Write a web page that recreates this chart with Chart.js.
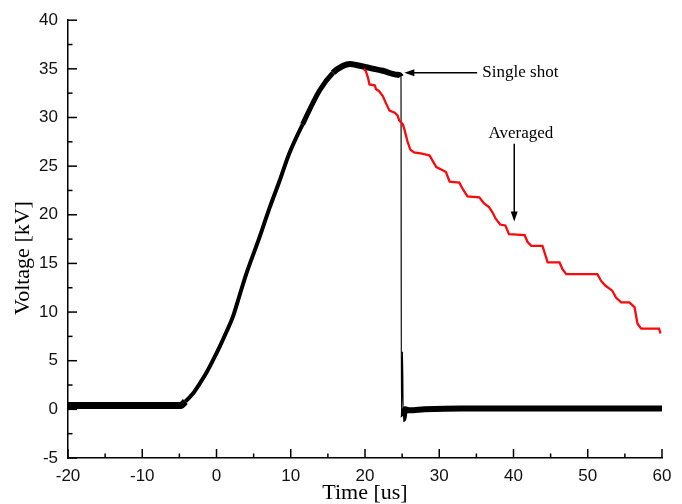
<!DOCTYPE html>
<html>
<head>
<meta charset="utf-8">
<script src="https://cdn.jsdelivr.net/npm/chart.js@4/dist/chart.umd.min.js"></script>
<style>
  html, body { margin: 0; padding: 0; background: #fff; }
  #wrap { width: 682px; height: 504px; }
</style>
</head>
<body>
<div id="wrap"><canvas id="c" width="682" height="504"></canvas></div>
<script>
// ---- Data ----
// Single shot trace (Time [us], Voltage [kV])
const singleTime = [-20, -4.8, -4.2, -3.2, -2.3, -1.4, -0.5, 0.4, 1.3, 2.2, 3.1, 4.0, 5.8, 7.1, 8.5, 9.8, 11.6, 13.9, 15.7, 17.0, 18.0, 18.8, 20.6, 22.4, 24.4, 24.85, 24.9, 25.05, 25.15, 25.4, 26, 28, 33, 60];
const singleVolt = [0.4, 0.4, 0.8, 1.6, 2.6, 3.7, 5.0, 6.4, 7.9, 9.5, 11.7, 13.9, 17.7, 20.6, 23.5, 26.3, 29.3, 32.8, 34.6, 35.3, 35.5, 35.4, 35.1, 34.8, 34.4, 34.2, -0.8, 5.9, -1.0, 0.0, -0.1, 0.0, 0.1, 0.1];

// Averaged trace
const avgTime = [19.8, 20.1, 20.4, 20.6, 21.3, 21.5, 21.9, 22.4, 22.8, 23.3, 24.0, 24.4, 24.6, 25.1, 25.3, 25.7, 26.1, 26.6, 27.5, 28.7, 29.0, 29.6, 30.4, 30.9, 31.4, 32.7, 33.2, 33.8, 35.4, 36.0, 36.7, 37.2, 37.6, 38.2, 38.9, 39.4, 41.5, 41.9, 42.4, 43.9, 44.4, 44.6, 46.2, 46.6, 47.1, 51.3, 51.8, 52.4, 53.3, 53.8, 54.5, 55.6, 56.3, 56.7, 57.2, 59.6, 59.8];
const avgVolt = [35.0, 34.8, 34.1, 33.4, 33.3, 32.9, 32.7, 32.2, 31.5, 30.7, 30.5, 30.2, 29.7, 29.3, 28.8, 27.6, 26.7, 26.4, 26.3, 26.1, 25.7, 24.9, 24.6, 24.4, 23.4, 23.3, 22.6, 21.9, 21.8, 21.2, 20.8, 20.2, 19.6, 19.0, 18.9, 18.0, 17.9, 17.2, 16.8, 16.8, 15.6, 15.1, 15.1, 14.4, 13.9, 13.9, 13.2, 12.7, 12.2, 11.5, 11.0, 11.0, 10.5, 8.8, 8.3, 8.3, 7.8];

// Axis ticks
const xMajorTicks = [-20, -10, 0, 10, 20, 30, 40, 50, 60];
const xMinorTicks = [-15, -5, 5, 15, 25, 35, 45, 55];
const yMajorTicks = [-5, 0, 5, 10, 15, 20, 25, 30, 35, 40];
const yMinorTicks = [-2.5, 2.5, 7.5, 12.5, 17.5, 22.5, 27.5, 32.5, 37.5];

// Texts
const xTitle = 'Time [us]';
const yTitle = 'Voltage [kV]';

// Annotations (data coordinates)
const singleLabel = { text: 'Single shot', x: 35.8, y: 34.6 };
const singleArrow = { fromX: 35.1, toX: 25.3, y: 34.6 };
const avgLabel = { text: 'Averaged', x: 41.0, y: 28.3 };
const avgArrow = { x: 40.1, fromY: 27.3, toY: 19.3 };

// ---- Build datasets ----
const singlePts = singleTime.map((t, i) => ({ x: t, y: singleVolt[i] }));
const avgPts = avgTime.map((t, i) => ({ x: t, y: avgVolt[i] }));

function singleWidth(ctx) {
  const x0 = ctx.p0.parsed.x, y0 = ctx.p0.parsed.y, y1 = ctx.p1.parsed.y;
  if (Math.abs(y1 - y0) > 4 && x0 > 24) return 1.2;   // the sharp drop
  if (x0 < -4.7) return 7;                            // noisy pre-trigger baseline
  if (x0 >= 25.3) return 6;                           // noisy post-drop baseline
  if (x0 >= 15) return 6;                             // noisy top
  if (x0 >= 11) return 5;
  return 4;
}

const SERIF = '"Liberation Serif", "Times New Roman", serif';

const overlay = {
  id: 'overlay',
  afterDraw(chart) {
    const { ctx, chartArea: a, scales: { x, y } } = chart;
    ctx.save();
    ctx.strokeStyle = '#000';
    ctx.fillStyle = '#000';
    ctx.lineWidth = 1.5;
    const seg = (x1, y1, x2, y2) => { ctx.beginPath(); ctx.moveTo(x1, y1); ctx.lineTo(x2, y2); ctx.stroke(); };
    yMajorTicks.forEach(v => { const p = y.getPixelForValue(v); seg(a.left, p, a.left + 9, p); });
    yMinorTicks.forEach(v => { const p = y.getPixelForValue(v); seg(a.left, p, a.left + 4.5, p); });
    xMajorTicks.forEach(v => { const p = x.getPixelForValue(v); seg(p, a.bottom, p, a.bottom - 9); });
    xMinorTicks.forEach(v => { const p = x.getPixelForValue(v); seg(p, a.bottom, p, a.bottom - 4.5); });

    // Single shot arrow (pointing left)
    const ay = y.getPixelForValue(singleArrow.y);
    const ax1 = x.getPixelForValue(singleArrow.fromX);
    const ax2 = x.getPixelForValue(singleArrow.toX);
    seg(ax1, ay, ax2 + 6, ay);
    ctx.beginPath(); ctx.moveTo(ax2, ay); ctx.lineTo(ax2 + 10, ay - 3.5); ctx.lineTo(ax2 + 10, ay + 3.5); ctx.closePath(); ctx.fill();

    // Averaged arrow (pointing down)
    const bx = x.getPixelForValue(avgArrow.x);
    const by1 = y.getPixelForValue(avgArrow.fromY);
    const by2 = y.getPixelForValue(avgArrow.toY);
    seg(bx, by1, bx, by2 - 6);
    ctx.beginPath(); ctx.moveTo(bx, by2); ctx.lineTo(bx - 3.5, by2 - 10); ctx.lineTo(bx + 3.5, by2 - 10); ctx.closePath(); ctx.fill();

    ctx.font = '17px ' + SERIF;
    ctx.textBaseline = 'middle';
    ctx.textAlign = 'left';
    ctx.fillText(singleLabel.text, x.getPixelForValue(singleLabel.x), y.getPixelForValue(singleLabel.y));
    ctx.textAlign = 'center';
    ctx.fillText(avgLabel.text, x.getPixelForValue(avgLabel.x), y.getPixelForValue(avgLabel.y));

    // Y axis title (slightly below centre, as in the reference)
    ctx.font = '22px ' + SERIF;
    ctx.translate(23, 258);
    ctx.rotate(-Math.PI / 2);
    ctx.textAlign = 'center';
    ctx.textBaseline = 'middle';
    ctx.fillText(yTitle, 0, 0);
    ctx.restore();
  }
};

new Chart(document.getElementById('c'), {
  type: 'line',
  data: {
    datasets: [
      {
        label: 'Single shot',
        data: singlePts,
        borderColor: '#000',
        borderWidth: 4,
        borderJoinStyle: 'round',
        pointRadius: 0,
        cubicInterpolationMode: 'monotone',
        segment: { borderWidth: singleWidth },
        order: 2
      },
      {
        label: 'Averaged',
        data: avgPts,
        borderColor: 'rgb(250,10,10)',
        borderWidth: 2.3,
        pointRadius: 0,
        tension: 0,
        order: 1
      }
    ]
  },
  options: {
    responsive: false,
    animation: false,
    events: [],
    layout: { padding: { left: 0, right: 20, top: 19, bottom: 0 } },
    plugins: { legend: { display: false }, tooltip: { enabled: false } },
    scales: {
      x: {
        type: 'linear',
        min: -20, max: 60,
        afterBuildTicks: s => { s.ticks = xMajorTicks.map(v => ({ value: v })); },
        afterFit: s => { s.height = 46; },
        grid: { display: true, drawOnChartArea: false, drawTicks: false },
        border: { display: true, color: '#000', width: 1.5 },
        ticks: { color: '#111', padding: 8, maxRotation: 0, autoSkip: false,
                 font: { family: '"Liberation Sans", Arial, sans-serif', size: 17 } },
        title: { display: true, text: xTitle, color: '#000',
                 padding: { top: 0, bottom: -2 },
                 font: { family: SERIF, size: 22 } }
      },
      y: {
        type: 'linear',
        min: -5, max: 40,
        afterBuildTicks: s => { s.ticks = yMajorTicks.map(v => ({ value: v })); },
        afterFit: s => { s.width = 68; },
        grid: { display: true, drawOnChartArea: false, drawTicks: false },
        border: { display: true, color: '#000', width: 1.5 },
        ticks: { color: '#111', padding: 10, autoSkip: false,
                 font: { family: '"Liberation Sans", Arial, sans-serif', size: 17 } },
        title: { display: false }
      }
    }
  },
  plugins: [overlay]
});
</script>
</body>
</html>
